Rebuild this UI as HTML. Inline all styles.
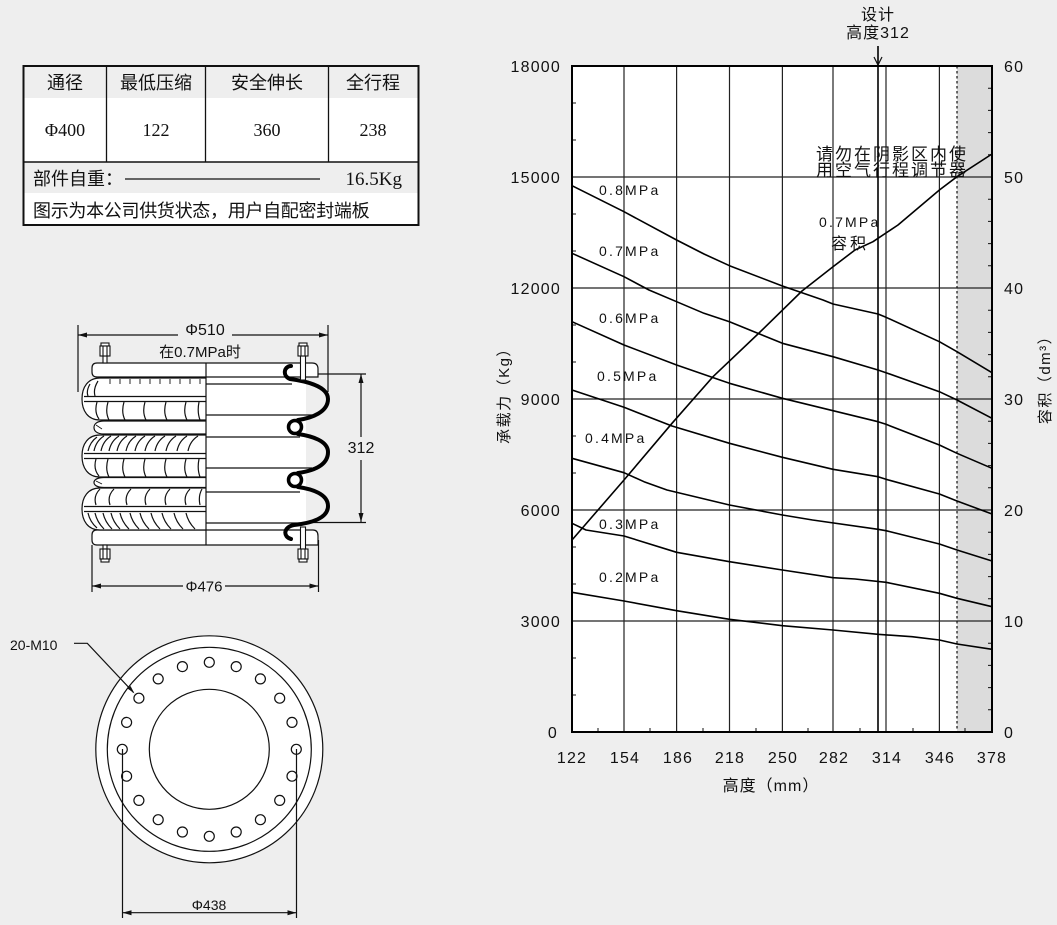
<!DOCTYPE html>
<html><head><meta charset="utf-8"><style>
html,body{margin:0;padding:0;background:#eeeeee;}
svg{display:block;}
.cj{font-family:"Liberation Sans","Noto Sans CJK SC",sans-serif;}
.sf{font-family:"Liberation Serif","Noto Serif CJK SC",serif;}
</style></head><body>
<svg width="1057" height="925" viewBox="0 0 1057 925" xmlns="http://www.w3.org/2000/svg">
<rect width="1057" height="925" fill="#eeeeee"/>

<!-- TABLE -->
<g>
<rect x="23" y="98" width="395" height="64" fill="#ffffff"/>
<rect x="23" y="193" width="395" height="32" fill="#ffffff"/>
<rect x="23.5" y="66" width="395" height="159" fill="none" stroke="#111" stroke-width="2"/>
<line x1="106.5" y1="66" x2="106.5" y2="162" stroke="#111" stroke-width="1.3"/>
<line x1="205.5" y1="66" x2="205.5" y2="162" stroke="#111" stroke-width="1.3"/>
<line x1="328.5" y1="66" x2="328.5" y2="162" stroke="#111" stroke-width="1.3"/>
<line x1="23" y1="162" x2="418" y2="162" stroke="#111" stroke-width="1.5"/>
<g class="cj" font-size="18" fill="#111" text-anchor="middle">
<text x="65" y="89">通径</text>
<text x="156" y="89">最低压缩</text>
<text x="267" y="89">安全伸长</text>
<text x="373" y="89">全行程</text>
</g>
<g class="sf" font-size="18" fill="#111" text-anchor="middle">
<text x="65" y="136">Φ400</text>
<text x="156" y="136">122</text>
<text x="267" y="136">360</text>
<text x="373" y="136">238</text>
</g>
<text class="cj" x="33" y="185" font-size="18" fill="#111">部件自重：</text>
<line x1="125" y1="179" x2="320" y2="179" stroke="#111" stroke-width="1.2"/>
<text class="sf" x="402" y="185" font-size="19" fill="#111" text-anchor="end">16.5Kg</text>
<text class="cj" x="33" y="217" font-size="18" fill="#111" letter-spacing="-0.3">图示为本公司供货状态，用户自配密封端板</text>
</g>

<!-- BELLOWS -->
<g stroke="#111" fill="none" stroke-width="1.2">
<line x1="78" y1="325" x2="78" y2="392"/>
<line x1="328" y1="325" x2="328" y2="392"/>
<line x1="78" y1="335" x2="178" y2="335"/>
<line x1="232" y1="335" x2="328" y2="335"/>
<line x1="92" y1="545" x2="92" y2="592"/>
<line x1="318.5" y1="540" x2="318.5" y2="592"/>
<line x1="92" y1="586" x2="183" y2="586"/>
<line x1="225" y1="586" x2="318.5" y2="586"/>
<line x1="318" y1="374" x2="366" y2="374"/>
<line x1="311" y1="522.5" x2="366" y2="522.5"/>
<line x1="361" y1="374" x2="361" y2="437"/>
<line x1="361" y1="460" x2="361" y2="522"/>
</g>
<g fill="#111">
<polygon points="78,335 87,332.5 87,337.5"/>
<polygon points="328,335 319,332.5 319,337.5"/>
<polygon points="92,586 101,583.5 101,588.5"/>
<polygon points="318.5,586 309.5,583.5 309.5,588.5"/>
<polygon points="361,374 358.5,383 363.5,383"/>
<polygon points="361,522 358.5,513 363.5,513"/>
</g>
<g class="cj" fill="#111" text-anchor="middle">
<text x="205" y="335" font-size="16">Φ510</text>
<text x="200" y="357" font-size="15">在0.7MPa时</text>
<text x="204" y="591.5" font-size="15">Φ476</text>
<text x="361" y="453" font-size="16">312</text>
</g>

<g stroke="#111" stroke-width="1.2">
<rect x="206" y="363" width="100" height="182" fill="#fff" stroke="none"/>
<path d="M97 363 H312 Q318 363 318 369 V377 H206 V377 H97 Q92 377 92 372 V368 Q92 363 97 363 Z" fill="#fff"/>
<path d="M97 530 H313 Q318 530 318 536 V545 H97 Q92 545 92 540 V535 Q92 530 97 530 Z" fill="#fff"/>
<path d="M206 378 H100 C88 378 82 387 82 399 C82 411 88 420 100 420 H206" fill="#fff"/>
<path d="M206 435 H100 C88 435 82 444 82 456 C82 468 88 477 100 477 H206" fill="#fff"/>
<path d="M206 488 H100 C88 488 82 497 82 509 C82 521 88 530 100 530 H206" fill="#fff"/>
<path d="M206 421 H104 C97 421 94 424 94 427.5 C94 431 97 434 104 434 H206" fill="#fff"/>
<path d="M206 477.5 H104 C97 477.5 94 480 94 482.5 C94 485 97 487.5 104 487.5 H206" fill="#fff"/>
<line x1="96" y1="425" x2="102" y2="429" stroke-width="0.8"/>
<line x1="96" y1="481" x2="102" y2="484" stroke-width="0.8"/>
</g>
<g stroke="#111" stroke-width="1.2" fill="none">
<line x1="84" y1="396.5" x2="206" y2="396.5"/><line x1="84" y1="401.5" x2="206" y2="401.5"/>
<line x1="84" y1="453.5" x2="206" y2="453.5"/><line x1="84" y1="458.5" x2="206" y2="458.5"/>
<line x1="84" y1="506.5" x2="206" y2="506.5"/><line x1="84" y1="511.5" x2="206" y2="511.5"/>
<path d="M110 379 v5 M120 379 v5 M130 379 v5 M140 379 v5 M150 379 v5 M160 379 v5 M170 379 v5 M180 379 v5 M190 379 v5 M200 379 v5" stroke-width="0.9"/>
<path d="M90 384 Q86 391 88 396 M98 381 Q93 389 95 396"/>
<path d="M97 402 Q94 412 99 419 M108 402 Q105 412 109 420 M124 402 Q121 412 125 420 M145 402 Q142 412 146 420 M166 402 Q163 412 167 420 M186 402 Q183 412 187 420 M199 402 Q197 412 200 420"/>
<path d="M88 451 Q90 442 97 437 M94 451 Q96 441 104 436 M101 451 Q103 441 111 436 M109 451 Q111 441 119 436 M117 451 Q119 441 127 436 M126 451 Q128 441 136 436 M135 451 Q137 441 145 436 M145 451 Q147 441 155 436 M155 451 Q157 441 165 436 M166 451 Q168 441 176 436 M177 451 Q179 441 187 436 M188 451 Q190 441 198 436"/>
<path d="M96 459 Q93 469 99 476 M108 459 Q105 469 109 477 M124 459 Q121 469 125 477 M145 459 Q142 469 146 477 M166 459 Q163 469 167 477 M186 459 Q183 469 187 477 M199 459 Q197 469 200 477"/>
<path d="M96 505 Q93 496 100 489 M110 505 Q107 496 114 489 M127 505 Q124 496 131 489 M146 505 Q143 496 150 489 M166 505 Q163 496 170 489 M186 505 Q183 496 190 489 M200 505 Q198 496 202 489"/>
<path d="M88 513 Q90 522 97 528 M95 513 Q97 522 104 529 M103 513 Q105 522 112 529 M111 513 Q113 522 120 529 M120 513 Q122 522 129 529 M130 513 Q132 522 139 529 M140 513 Q142 522 149 529 M151 513 Q153 522 160 529 M162 513 Q164 522 171 529 M174 513 Q176 522 183 529 M186 513 Q188 522 195 529"/>
<line x1="206" y1="384" x2="292" y2="384"/>
<line x1="206" y1="415" x2="312" y2="415"/>
<line x1="206" y1="437" x2="300" y2="437"/>
<line x1="206" y1="468" x2="312" y2="468"/>
<line x1="206" y1="492" x2="300" y2="492"/>
<line x1="206" y1="523" x2="300" y2="523"/>
<line x1="206" y1="363" x2="206" y2="545"/>
</g>
<g stroke="#000" stroke-width="4" fill="none" stroke-linecap="round">
<path d="M291 366 C284 366 282 376 290 379 C305 381 328 386 328 399 C328 412 312 418 298 420"/>
<path d="M298 434 C312 436 328 441 328 452 C328 466 312 471 298 473"/>
<path d="M298 487 C312 489 328 494 328 506 C328 518 312 523 294 525 C283 527 283 537 291 539"/>
</g>
<circle cx="295" cy="427" r="6.5" fill="#fff" stroke="#000" stroke-width="3.5"/>
<circle cx="295" cy="480" r="6.5" fill="#fff" stroke="#000" stroke-width="3.5"/>
<g stroke="#111" stroke-width="1.1" fill="#fff">
<rect x="103" y="356" width="4" height="7"/>
<rect x="101" y="343" width="8" height="3"/>
<rect x="100" y="346" width="10" height="10"/>
<line x1="103" y1="346" x2="103" y2="356"/><line x1="107" y1="346" x2="107" y2="356"/>
<rect x="103" y="545" width="4" height="4"/>
<rect x="100" y="549" width="10" height="10"/>
<rect x="101" y="559" width="8" height="3"/>
<line x1="103" y1="549" x2="103" y2="559"/><line x1="107" y1="549" x2="107" y2="559"/>
<rect x="300.5" y="356" width="5" height="24"/>
<rect x="299" y="343" width="8" height="3"/>
<rect x="298" y="346" width="10" height="10"/>
<line x1="301" y1="346" x2="301" y2="356"/><line x1="305" y1="346" x2="305" y2="356"/>
<rect x="300.5" y="527" width="5" height="22"/>
<rect x="298" y="549" width="10" height="10"/>
<rect x="299" y="559" width="8" height="3"/>
<line x1="301" y1="549" x2="301" y2="559"/><line x1="305" y1="549" x2="305" y2="559"/>
</g>

<!-- FLANGE CIRCLE -->
<g stroke="#111" stroke-width="1.2">
<circle cx="209.3" cy="749.3" r="113.5" fill="#fff"/>
<circle cx="209.3" cy="749.3" r="102" fill="#fff"/>
<circle cx="209.3" cy="749.3" r="60" fill="#fff"/>
<g fill="#fff">
<circle cx="296.3" cy="749.3" r="5"/>
<circle cx="292.0" cy="776.2" r="5"/>
<circle cx="279.7" cy="800.4" r="5"/>
<circle cx="260.4" cy="819.7" r="5"/>
<circle cx="236.2" cy="832.0" r="5"/>
<circle cx="209.3" cy="836.3" r="5"/>
<circle cx="182.4" cy="832.0" r="5"/>
<circle cx="158.2" cy="819.7" r="5"/>
<circle cx="138.9" cy="800.4" r="5"/>
<circle cx="126.6" cy="776.2" r="5"/>
<circle cx="122.3" cy="749.3" r="5"/>
<circle cx="126.6" cy="722.4" r="5"/>
<circle cx="138.9" cy="698.2" r="5"/>
<circle cx="158.2" cy="678.9" r="5"/>
<circle cx="182.4" cy="666.6" r="5"/>
<circle cx="209.3" cy="662.3" r="5"/>
<circle cx="236.2" cy="666.6" r="5"/>
<circle cx="260.4" cy="678.9" r="5"/>
<circle cx="279.7" cy="698.2" r="5"/>
<circle cx="292.0" cy="722.4" r="5"/>
</g>
<line x1="122.5" y1="749" x2="122.5" y2="918" fill="none"/>
<line x1="296.5" y1="749" x2="296.5" y2="918" fill="none"/>
<line x1="122.5" y1="912.7" x2="296.5" y2="912.7" fill="none"/>
<polyline points="74,643.3 87.3,643.3 133.5,692.5" fill="none"/>
</g>
<g fill="#111">
<polygon points="122.5,912.7 131.5,910.2 131.5,915.2"/>
<polygon points="296.5,912.7 287.5,910.2 287.5,915.2"/>
<polygon points="134.5,693.5 127.5,688.5 130.5,686"/>
</g>
<g class="cj" fill="#111" font-size="14">
<text x="209" y="910" text-anchor="middle">Φ438</text>
<text x="10" y="650">20-M10</text>
</g>

<!-- CHART -->
<g>
<rect x="572" y="66" width="420" height="666" fill="#ffffff"/>
<rect x="957" y="66" width="35" height="666" fill="#dcdcdc"/>
<g stroke="#222" stroke-width="1.2">
<line x1="572" y1="177" x2="992" y2="177"/>
<line x1="572" y1="288" x2="992" y2="288"/>
<line x1="572" y1="399" x2="992" y2="399"/>
<line x1="572" y1="510" x2="992" y2="510"/>
<line x1="572" y1="621" x2="992" y2="621"/>
<line x1="624" y1="66" x2="624" y2="732"/>
<line x1="676.6" y1="66" x2="676.6" y2="732"/>
<line x1="729.5" y1="66" x2="729.5" y2="732"/>
<line x1="782.4" y1="66" x2="782.4" y2="732"/>
<line x1="833" y1="66" x2="833" y2="732"/>
<line x1="886" y1="66" x2="886" y2="732"/>
<line x1="939.4" y1="66" x2="939.4" y2="732"/>
<line x1="878" y1="46" x2="878" y2="732" stroke="#000" stroke-width="1.6"/>
</g>
<line x1="957" y1="66" x2="957" y2="732" stroke="#111" stroke-width="1.2" stroke-dasharray="2.5,2.5"/>
<polyline points="874,57 878,65 882,57" fill="none" stroke="#111" stroke-width="1.2"/>
<g stroke="#111" stroke-width="1">
<path d="M572 103h4M572 140h4M572 214h4M572 251h4M572 325h4M572 362h4M572 436h4M572 473h4M572 547h4M572 584h4M572 658h4M572 695h4"/>
<path d="M992 88.2h-4M992 110.4h-4M992 132.6h-4M992 154.8h-4M992 199.2h-4M992 221.4h-4M992 243.6h-4M992 265.8h-4M992 310.2h-4M992 332.4h-4M992 354.6h-4M992 376.8h-4M992 421.2h-4M992 443.4h-4M992 465.6h-4M992 487.8h-4M992 532.2h-4M992 554.4h-4M992 576.6h-4M992 598.8h-4M992 643.2h-4M992 665.4h-4M992 687.6h-4M992 709.8h-4"/>
<path d="M598 732v-4M650 732v-4M703 732v-4M756 732v-4M808 732v-4M860 732v-4M913 732v-4M965 732v-4"/>
</g>
<rect x="572" y="66" width="420" height="666" fill="none" stroke="#000" stroke-width="2"/>
<g fill="none" stroke="#000" stroke-width="1.6" stroke-linejoin="round">
<polyline points="572,185.7 624,211.7 676.6,240 704,254 729.5,265.7 782.4,286 823,300 833,304 878,314 886,317.3 939.4,341.7 957,351.7 992,372.7"/>
<polyline points="572,253.3 624,276.7 649,290 676.6,301.7 704,313.3 729.5,321.7 782.4,343.3 833,356.7 878,370 886,372.7 939.4,391.7 957,400 992,418.3"/>
<polyline points="572,321.7 624,345 676.6,365 729.5,383.3 782.4,398.3 833,410.7 878,421.7 886,424.3 939.4,445 957,453.3 992,468.3"/>
<polyline points="572,390 624,407.3 672,426 729.5,443.3 782.4,457.3 833,469.3 878,476.7 886,479.3 939.4,494 957,501 992,514"/>
<polyline points="572,458.3 624,472.7 644,481.7 667,490 729.5,505 782.4,515 812.6,520 878,529.3 886,530.7 939.4,544 957,550 992,561"/>
<polyline points="572,523.3 586,530 624,536 676.6,552.3 729.5,561.7 782.4,570 833,577.7 855,579 886,582.3 939.4,593.3 957,598.3 992,606.7"/>
<polyline points="572,592.3 624,601 676.6,610.7 729.5,619.3 782.4,625.7 833,630 878,634.3 912,636.7 939.4,640 957,644 992,649.3"/>
<polyline points="572,540 624,480 672,423.3 713,376.7 759,333 802,291 833,266.7 855,250 873,241.7 878,238.3 898,225 939.4,190 957,176.7 992,154"/>
</g>
<g class="cj" font-size="14" fill="#111" letter-spacing="2.2">
<text x="599" y="195">0.8MPa</text>
<text x="599" y="256">0.7MPa</text>
<text x="599" y="323">0.6MPa</text>
<text x="597" y="381">0.5MPa</text>
<text x="585" y="443">0.4MPa</text>
<text x="599" y="529">0.3MPa</text>
<text x="599" y="582">0.2MPa</text>
<text x="819" y="227">0.7MPa</text>
</g>
<text class="cj" x="831" y="249" font-size="16" fill="#111" letter-spacing="3">容积</text>
<g class="cj" font-size="17" fill="#111" letter-spacing="2">
<text x="816" y="160">请勿在阴影区内使</text>
<text x="816" y="176">用空气行程调节器</text>
</g>
<g class="cj" font-size="16" fill="#111" text-anchor="middle" letter-spacing="1">
<text x="878" y="20">设计</text>
<text x="878" y="38">高度312</text>
</g>
<g class="cj" font-size="16" fill="#111" text-anchor="end" letter-spacing="1.2">
<text x="561" y="72">18000</text>
<text x="561" y="183">15000</text>
<text x="561" y="294">12000</text>
<text x="561" y="405">9000</text>
<text x="561" y="516">6000</text>
<text x="561" y="627">3000</text>
<text x="558" y="738">0</text>
</g>
<g class="cj" font-size="16" fill="#111" letter-spacing="1.2">
<text x="1004" y="72">60</text>
<text x="1004" y="183">50</text>
<text x="1004" y="294">40</text>
<text x="1004" y="405">30</text>
<text x="1004" y="516">20</text>
<text x="1004" y="627">10</text>
<text x="1004" y="738">0</text>
</g>
<g class="cj" font-size="16" fill="#111" text-anchor="middle" letter-spacing="1.2">
<text x="572" y="763">122</text>
<text x="625" y="763">154</text>
<text x="678" y="763">186</text>
<text x="730" y="763">218</text>
<text x="783" y="763">250</text>
<text x="834" y="763">282</text>
<text x="887" y="763">314</text>
<text x="940" y="763">346</text>
<text x="992" y="763">378</text>
</g>
<text class="cj" x="771" y="791" font-size="16" fill="#111" text-anchor="middle" letter-spacing="1">高度（mm）</text>
<text class="cj" transform="translate(509,392) rotate(-90)" font-size="15" fill="#111" text-anchor="middle" letter-spacing="1.5">承载力（Kg）</text>
<text class="cj" transform="translate(1050,376) rotate(-90)" font-size="15" fill="#111" text-anchor="middle" letter-spacing="1.5">容积（dm³）</text>
</g>
</svg>
</body></html>
